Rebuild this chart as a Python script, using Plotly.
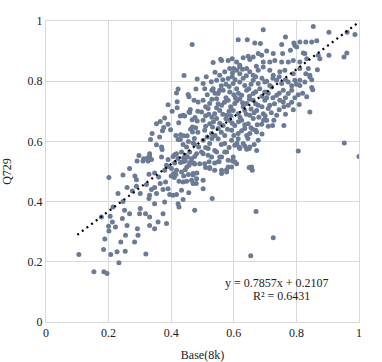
import plotly.graph_objects as go

# ---- data (Base(8k) , Q729) ----
pts_upper_left = [
    (0.467,0.922),(0.441,0.819),(0.483,0.807),(0.422,0.774),(0.417,0.761),(0.479,0.774),(0.454,0.756),
    (0.457,0.748),(0.473,0.737),(0.419,0.732),(0.390,0.722),(0.419,0.712),(0.403,0.700),(0.461,0.706),
    (0.459,0.696),(0.476,0.679),(0.429,0.684),(0.443,0.684),(0.379,0.678),(0.365,0.666),(0.353,0.659),
    (0.390,0.657),(0.424,0.662),(0.467,0.672),(0.483,0.668),(0.376,0.646),(0.372,0.635),(0.398,0.639),
    (0.468,0.648),(0.468,0.631),(0.339,0.626),(0.363,0.615),(0.334,0.606),(0.422,0.606),(0.429,0.606),
    (0.440,0.619),(0.451,0.619),(0.353,0.589),(0.369,0.581),(0.371,0.573),(0.438,0.590),(0.449,0.581),
    (0.475,0.590),(0.488,0.581),(0.297,0.553),(0.312,0.542),(0.324,0.545),(0.331,0.550),(0.369,0.548),
    (0.406,0.550),(0.417,0.559),(0.390,0.540),(0.433,0.565),(0.445,0.554),(0.459,0.565),(0.481,0.559),
    (0.486,0.731),(0.438,0.687),(0.457,0.698),(0.462,0.640),(0.478,0.645),(0.485,0.630),(0.455,0.600),
    (0.470,0.595),(0.474,0.610),(0.415,0.620),(0.430,0.622),(0.411,0.556),(0.422,0.543),(0.440,0.545),
    (0.452,0.548),(0.465,0.542),(0.475,0.550),(0.337,0.540),(0.331,0.559),
]

pts_lower_left = [
    (0.201,0.480),(0.246,0.488),(0.267,0.510),(0.291,0.535),(0.310,0.535),(0.326,0.535),(0.284,0.485),
    (0.289,0.473),(0.329,0.491),(0.347,0.495),(0.360,0.482),(0.379,0.504),(0.391,0.517),(0.230,0.427),
    (0.259,0.447),(0.276,0.435),(0.289,0.451),(0.301,0.427),(0.321,0.457),(0.337,0.440),(0.347,0.447),
    (0.331,0.421),(0.329,0.410),(0.365,0.460),(0.374,0.440),(0.390,0.443),(0.382,0.465),(0.395,0.424),
    (0.417,0.424),(0.347,0.393),(0.379,0.399),(0.408,0.493),(0.417,0.504),(0.433,0.498),(0.445,0.506),
    (0.457,0.521),(0.470,0.493),(0.481,0.476),(0.465,0.471),(0.449,0.468),(0.425,0.468),(0.438,0.407),
    (0.422,0.393),(0.425,0.382),(0.456,0.429),(0.475,0.371),(0.385,0.327),(0.374,0.360),(0.358,0.332),
    (0.347,0.310),(0.331,0.349),(0.331,0.321),(0.299,0.360),(0.267,0.360),(0.301,0.377),(0.318,0.360),
    (0.251,0.371),(0.244,0.344),(0.214,0.382),(0.246,0.400),(0.205,0.351),(0.177,0.349),(0.212,0.332),
    (0.222,0.316),(0.200,0.318),(0.201,0.302),(0.259,0.321),(0.254,0.288),(0.292,0.310),(0.294,0.288),
    (0.239,0.266),(0.283,0.266),(0.188,0.276),(0.184,0.241),(0.227,0.233),(0.253,0.235),(0.319,0.226),
    (0.207,0.224),(0.105,0.224),(0.233,0.197),(0.153,0.167),(0.185,0.167),(0.195,0.161),(0.353,0.427),
    (0.438,0.532),(0.472,0.528),(0.411,0.528),(0.385,0.521),(0.401,0.510),(0.438,0.465),(0.470,0.460),
    (0.480,0.460),(0.440,0.485),(0.455,0.490),(0.470,0.488),(0.482,0.495),(0.400,0.485),(0.410,0.480),
    (0.415,0.490),(0.406,0.421),(0.433,0.438),(0.430,0.530),(0.445,0.535),(0.460,0.530),(0.475,0.525),
    (0.450,0.515),
]

pts_upper_right = [
    (0.854,0.982),(0.694,0.971),(0.904,0.963),(0.962,0.963),(0.987,0.955),
    (0.614,0.938),(0.643,0.938),(0.667,0.927),(0.685,0.925),(0.765,0.947),(0.753,0.922),(0.792,0.927),
    (0.811,0.930),(0.830,0.930),(0.849,0.930),(0.865,0.934),(0.795,0.919),
    (0.705,0.900),(0.726,0.892),(0.756,0.892),(0.781,0.903),(0.801,0.914),(0.827,0.892),(0.678,0.892),
    (0.662,0.880),(0.646,0.883),(0.630,0.878),(0.904,0.886),(0.961,0.894),(0.952,0.880),(0.595,0.875),
    (0.561,0.869),(0.822,0.894),(0.870,0.886),(0.875,0.875),
    (0.534,0.862),(0.582,0.869),(0.609,0.864),(0.651,0.872),(0.689,0.886),(0.694,0.864),(0.715,0.864),
    (0.731,0.869),(0.753,0.864),(0.774,0.864),(0.790,0.869),(0.811,0.864),(0.833,0.875),(0.558,0.873),
    (0.619,0.853),(0.619,0.847),(0.600,0.842),
    (0.587,0.842),(0.609,0.836),(0.619,0.825),(0.641,0.842),(0.651,0.831),(0.662,0.820),(0.678,0.836),
    (0.694,0.847),(0.715,0.836),(0.726,0.820),(0.747,0.831),(0.763,0.836),(0.790,0.825),(0.811,0.842),
    (0.830,0.825),(0.867,0.838),(0.555,0.820),(0.571,0.831),(0.838,0.842),(0.843,0.820),
    (0.502,0.792),(0.545,0.803),(0.582,0.809),(0.598,0.792),(0.619,0.797),(0.635,0.786),(0.662,0.803),
    (0.678,0.792),(0.699,0.797),(0.715,0.786),(0.737,0.803),(0.753,0.792),(0.774,0.797),(0.795,0.803),
    (0.811,0.803),(0.811,0.786),(0.827,0.797),(0.849,0.805),(0.507,0.775),(0.530,0.770),(0.555,0.770),
    (0.843,0.814),(0.560,0.785),(0.575,0.790),
    (0.534,0.775),(0.550,0.759),(0.566,0.770),(0.587,0.764),(0.609,0.775),(0.625,0.753),(0.641,0.770),
    (0.662,0.759),(0.683,0.775),(0.699,0.764),(0.721,0.781),(0.737,0.753),(0.758,0.770),(0.774,0.759),
    (0.806,0.755),(0.849,0.779),(0.852,0.772),(0.833,0.748),
    (0.502,0.737),(0.523,0.726),(0.545,0.742),(0.561,0.720),(0.582,0.737),(0.603,0.726),(0.619,0.742),
    (0.641,0.726),(0.662,0.737),(0.678,0.720),(0.699,0.737),(0.715,0.720),(0.747,0.737),(0.758,0.731),
    (0.774,0.720),(0.809,0.723),
    (0.497,0.698),(0.518,0.709),(0.539,0.692),(0.555,0.703),(0.577,0.687),(0.598,0.703),(0.614,0.692),
    (0.635,0.703),(0.651,0.687),(0.673,0.703),(0.694,0.692),(0.710,0.709),(0.737,0.687),(0.843,0.698),
    (0.502,0.670),(0.523,0.659),(0.545,0.676),(0.566,0.653),(0.587,0.670),(0.603,0.653),(0.625,0.670),
    (0.646,0.659),(0.662,0.676),(0.689,0.657),(0.705,0.670),(0.724,0.653),(0.728,0.670),(0.760,0.653),
    (0.507,0.637),(0.529,0.626),(0.550,0.643),(0.571,0.620),(0.593,0.637),(0.614,0.626),(0.635,0.643),
    (0.651,0.626),(0.673,0.631),(0.532,0.648),
    (0.502,0.604),(0.523,0.593),(0.550,0.609),(0.571,0.593),(0.593,0.604),(0.617,0.581),(0.953,0.595),
    (0.603,0.587),(0.614,0.609),(0.630,0.593),(0.641,0.620),(0.651,0.581),(0.670,0.637),(0.678,0.604),
    (0.673,0.570),
    (0.497,0.565),(0.518,0.554),(0.539,0.570),(0.555,0.548),(0.577,0.565),(0.598,0.548),(0.641,0.574),
    (0.649,0.576),(0.806,0.568),(1.000,0.550),(0.502,0.559),(0.518,0.576),(0.529,0.548),(0.545,0.565),
    (0.561,0.548),(0.571,0.565),(0.619,0.576),
    (0.512,0.815),(0.528,0.798),(0.540,0.830),(0.565,0.805),(0.595,0.815),(0.630,0.810),(0.655,0.790),
    (0.670,0.815),(0.690,0.810),(0.705,0.800),(0.725,0.810),(0.745,0.815),(0.765,0.805),(0.785,0.785),
    (0.800,0.790),
    (0.515,0.755),(0.540,0.760),(0.575,0.745),(0.600,0.755),(0.615,0.760),(0.650,0.750),(0.670,0.765),
    (0.690,0.750),(0.710,0.760),(0.725,0.745),(0.745,0.760),(0.765,0.745),(0.785,0.770),(0.795,0.745),
    (0.820,0.760),
    (0.510,0.715),(0.530,0.740),(0.550,0.725),(0.570,0.730),(0.590,0.715),(0.610,0.735),(0.630,0.715),
    (0.650,0.740),(0.670,0.725),(0.690,0.715),(0.705,0.745),(0.730,0.725),(0.760,0.715),(0.785,0.730),
    (0.790,0.705),
    (0.510,0.685),(0.530,0.680),(0.565,0.690),(0.590,0.685),(0.620,0.680),(0.640,0.690),(0.665,0.695),
    (0.680,0.680),(0.700,0.685),(0.720,0.695),(0.745,0.705),(0.765,0.690),
    (0.510,0.650),(0.535,0.665),(0.555,0.660),(0.575,0.675),(0.595,0.660),(0.615,0.665),(0.635,0.655),
    (0.655,0.645),(0.675,0.655),(0.695,0.670),(0.710,0.650),
    (0.515,0.615),(0.540,0.620),(0.560,0.630),(0.580,0.640),(0.600,0.620),(0.625,0.635),(0.645,0.610),
    (0.660,0.640),(0.690,0.625),
    (0.510,0.580),(0.530,0.610),(0.560,0.590),(0.585,0.580),(0.610,0.595),(0.635,0.585),(0.665,0.590),
    (0.596,0.828),(0.628,0.840),(0.640,0.818),(0.672,0.850),(0.604,0.805),(0.585,0.782),(0.648,0.775),
    (0.605,0.745),(0.628,0.728),(0.655,0.708),(0.585,0.700),(0.545,0.712),(0.520,0.690),(0.485,0.700),
]

pts_lower_right = [
    (0.502,0.443),(0.531,0.410),(0.649,0.513),(0.659,0.504),(0.671,0.367),(0.726,0.280),(0.654,0.220),
    (0.510,0.513),(0.523,0.513),(0.561,0.504),(0.577,0.506),(0.582,0.515),(0.539,0.528),(0.553,0.532),
    (0.596,0.535),(0.603,0.532),(0.491,0.526),(0.521,0.532),(0.550,0.532),(0.582,0.537),(0.507,0.526),
    (0.523,0.510),(0.539,0.504),(0.561,0.493),(0.502,0.471),(0.577,0.498),(0.593,0.515),(0.609,0.526),
    (0.657,0.515),
]

trend_slope = 0.7857
trend_intercept = 0.2107
r_squared = 0.6431
trend_x_range = [0.1, 1.0]

x_ticks = [0, 0.2, 0.4, 0.6, 0.8, 1]
x_tick_labels = ["0", "0.2", "0.4", "0.6", "0.8", "1"]
y_ticks = [0, 0.2, 0.4, 0.6, 0.8, 1]
y_tick_labels = ["0", "0.2", "0.4", "0.6", "0.8", "1"]

all_pts = pts_upper_left + pts_lower_left + pts_upper_right + pts_lower_right
base_8k = [p[0] for p in all_pts]
q729 = [p[1] for p in all_pts]

trend_y = [trend_slope * x + trend_intercept for x in trend_x_range]

FONT = "Liberation Serif, Times New Roman, serif"
GRID = "#d9d9d9"
TXT = "#222222"

fig = go.Figure()
fig.add_trace(go.Scatter(
    x=base_8k, y=q729, mode="markers",
    marker=dict(size=5, color="#6b7b96", line=dict(width=0)),
    showlegend=False, hoverinfo="skip",
))
fig.add_trace(go.Scatter(
    x=trend_x_range, y=trend_y, mode="lines",
    line=dict(color="#000000", width=2.2, dash="2px,3.8px"),
    showlegend=False, hoverinfo="skip",
))

fig.add_annotation(x=0.738, y=0.131, xref="x", yref="y", showarrow=False,
                   text=f"y = {trend_slope}x + {trend_intercept}",
                   font=dict(family=FONT, size=12, color=TXT))
fig.add_annotation(x=0.753, y=0.086, xref="x", yref="y", showarrow=False,
                   text=f"R² = {r_squared}",
                   font=dict(family=FONT, size=12, color=TXT))

axis_common = dict(
    range=[0, 1], showgrid=True, gridcolor=GRID, gridwidth=1,
    showline=True, mirror=True, linecolor=GRID, linewidth=1,
    zeroline=False, ticks="", fixedrange=True, automargin=False,
    tickfont=dict(family=FONT, size=12, color=TXT),
)

fig.update_layout(
    width=382, height=362,
    margin=dict(l=46, r=23, t=21, b=40),
    paper_bgcolor="white", plot_bgcolor="white",
    font=dict(family=FONT, size=12, color=TXT),
    xaxis=dict(axis_common, tickvals=x_ticks, ticktext=x_tick_labels,
               title=dict(text="Base(8k)", font=dict(family=FONT, size=12, color=TXT))),
    yaxis=dict(axis_common, tickvals=y_ticks, ticktext=y_tick_labels,
               title=dict(text="Q729", font=dict(family=FONT, size=12, color=TXT))),
)

fig.write_html(
    "out.html",
    config={"displayModeBar": False, "staticPlot": True},
    post_script="document.body.style.margin='0';document.body.style.overflow='hidden';",
)
